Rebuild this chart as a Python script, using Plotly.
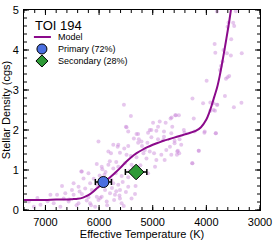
import plotly.graph_objects as go

# Background stars (Teff [K], density [cgs])
star_teff = [3802, 3450, 3587, 3500, 3481, 3605, 3537, 3846, 3833, 3680, 3617, 3543, 3340, 3698, 3728, 3747,
             3574, 3605, 3635, 3995, 4259, 4061, 3926, 3796, 3865, 3654, 3487, 3346, 4648, 4568, 4512, 4235,
             3865, 3802, 3926, 3839, 4580, 4667, 4870, 4759, 4994, 4901, 4636, 5056, 5025, 5087, 4932, 4790,
             4420, 5302, 4790, 4654, 4407, 4222, 4037, 3821, 5025, 4901, 5259, 5210, 4500, 5099, 4593,
             5735, 5654, 5457, 5531, 5272, 5827, 5778, 5611, 5488, 5407, 5302, 5148, 5056, 4975, 4840, 4747,
             4654, 5117, 4932, 4778, 6043, 5951, 5827, 5735, 5642, 5519, 5395, 5691, 5580, 5457, 5735, 5642,
             5889, 5796, 5704, 5951, 5611, 5858, 5580, 5395, 6043, 6012, 5457, 5087,
             6321, 6198, 6290, 6475, 6691, 6167, 6383, 6259, 6506, 6364, 6136, 6630, 6475, 6321, 6784, 6907,
             6661, 6198, 6568, 6846, 6383, 6167, 7093, 7216, 7309, 6722, 6074, 6043,
             5537, 5407, 5488, 5457, 6012, 5272, 5352, 5500, 5642, 6333,
             3827, 4142, 4259, 4543, 4506, 4957, 5173, 4679, 4802, 4031,
             4593, 4469, 4531, 4549, 4142, 4265,
             5900, 5760, 5680, 6100, 5980, 5850, 5560, 5620, 5720, 6230, 5940, 5500, 5360, 5800, 6150, 5680,
             5880, 5320, 5230, 5430, 6420, 6560, 6960, 7150, 5990, 5770, 5610, 5540, 5330, 5200]
star_rho = [4.96, 4.97, 4.69, 4.68, 4.60, 4.58, 4.27, 4.15, 3.93, 4.00, 3.92, 3.86, 3.92, 3.71, 3.60, 3.50,
            3.35, 3.32, 3.28, 3.23, 2.79, 2.67, 2.69, 2.63, 2.50, 2.85, 2.57, 2.68, 2.31, 2.37, 2.37, 2.29,
            2.67, 2.63, 2.48, 2.48, 2.37, 2.29, 2.21, 2.18, 2.18, 2.08, 2.08, 2.00, 2.00, 1.93, 1.98, 1.96,
            2.00, 1.90, 1.83, 1.92, 1.93, 1.96, 1.93, 1.92, 1.82, 1.77, 1.77, 1.71, 1.77, 1.68, 1.67,
            1.63, 1.58, 1.60, 1.54, 1.68, 1.46, 1.42, 1.43, 1.38, 1.35, 1.32, 1.50, 1.46, 1.42, 1.38, 1.50,
            1.38, 1.29, 1.25, 1.25, 1.15, 1.08, 1.13, 1.04, 1.08, 1.17, 1.13, 0.92, 0.85, 0.82, 0.67, 0.63,
            0.50, 0.42, 0.38, 0.33, 0.29, 0.21, 0.17, 0.29, 0.63, 0.25, 0.58, 0.92,
            0.96, 0.92, 0.79, 0.67, 0.60, 0.67, 0.58, 0.54, 0.50, 0.46, 0.50, 0.42, 0.38, 0.40, 0.38, 0.38,
            0.29, 0.32, 0.21, 0.17, 0.17, 0.17, 0.13, 0.08, 0.21, 0.08, 0.08, 0.33,
            2.63, 2.35, 2.07, 1.96, 1.71, 1.90, 1.79, 2.08, 1.63, 0.96,
            1.92, 1.48, 1.17, 1.46, 1.42, 1.08, 1.42, 1.58, 1.75, 1.96,
            1.73, 1.63, 1.48, 1.38, 1.48, 1.17,
            0.88, 0.55, 0.47, 0.78, 0.30, 0.12, 0.70, 0.36, 0.25, 0.24, 1.02, 0.45, 1.05, 1.22, 0.12, 1.20,
            0.95, 0.60, 1.12, 0.98, 0.12, 0.26, 0.22, 0.30, 0.86, 0.75, 0.50, 0.10, 0.40, 1.60]

# Model curve
model_teff = [7400, 7200, 7000, 6800, 6600, 6500, 6400, 6300, 6200, 6100, 6000, 5900, 5800, 5700,
              5600, 5500, 5400, 5300, 5200, 5100, 5000, 4900, 4800, 4700, 4600, 4500, 4400, 4300,
              4200, 4100, 4000, 3950, 3900, 3850, 3800, 3750, 3700, 3650, 3600, 3570, 3540]
model_rho = [0.25, 0.25, 0.25, 0.26, 0.26, 0.27, 0.28, 0.31, 0.37, 0.47, 0.59, 0.70, 0.81, 0.93,
             1.06, 1.20, 1.32, 1.42, 1.50, 1.57, 1.63, 1.68, 1.73, 1.77, 1.81, 1.85, 1.89, 1.93,
             1.98, 2.07, 2.26, 2.42, 2.62, 2.84, 3.06, 3.36, 3.72, 4.10, 4.50, 4.75, 5.02]

# Components
prim_teff, prim_rho, prim_err = [5920], [0.70], [150]
sec_teff, sec_rho, sec_err = [5310], [0.95], [200]

# Axis ticks
x_major = [3000, 4000, 5000, 6000, 7000]
y_major = [0, 1, 2, 3, 4, 5]
x_minor = [3000 + 200 * i for i in range(23)]
y_minor = [round(0.2 * i, 1) for i in range(26)]

# Legend
legend_title = "TOI 194"
legend_labels = ["Model", "Primary (72%)", "Secondary (28%)"]

MODEL_C = "#8b0a8b"
PRIM_C = "#4a6fe0"
SEC_C = "#2e9a36"

fig = go.Figure()
fig.add_trace(go.Scatter(x=star_teff, y=star_rho, mode="markers", showlegend=False,
                         marker=dict(size=4, color="rgba(200,130,215,0.45)", line=dict(width=0))))
fig.add_trace(go.Scatter(x=model_teff, y=model_rho, mode="lines", showlegend=False,
                         line=dict(color=MODEL_C, width=2, shape="spline", smoothing=0.6)))
fig.add_trace(go.Scatter(x=prim_teff, y=prim_rho, mode="markers", showlegend=False,
                         error_x=dict(type="data", array=prim_err, color="black", thickness=1.5, width=3),
                         marker=dict(symbol="circle", size=11, color=PRIM_C, line=dict(color="black", width=1))))
fig.add_trace(go.Scatter(x=sec_teff, y=sec_rho, mode="markers", showlegend=False,
                         error_x=dict(type="data", array=sec_err, color="black", thickness=1.5, width=3),
                         marker=dict(symbol="diamond", size=12, color=SEC_C, line=dict(color="black", width=1))))

# Inward tick marks on all four sides, placed through the axes' own scales
shapes = []
tick_line = dict(color="black", width=1)
for vals, length in ((x_minor, 3), (x_major, 5)):
    for v in vals:
        shapes.append(dict(type="line", xref="x", yref="paper", ysizemode="pixel", yanchor=0,
                           x0=v, x1=v, y0=0, y1=length, line=tick_line))
        shapes.append(dict(type="line", xref="x", yref="paper", ysizemode="pixel", yanchor=1,
                           x0=v, x1=v, y0=0, y1=-length, line=tick_line))
for vals, length in ((y_minor, 3), (y_major, 5)):
    for v in vals:
        shapes.append(dict(type="line", xref="paper", yref="y", xsizemode="pixel", xanchor=0,
                           x0=0, x1=length, y0=v, y1=v, line=tick_line))
        shapes.append(dict(type="line", xref="paper", yref="y", xsizemode="pixel", xanchor=1,
                           x0=0, x1=-length, y0=v, y1=v, line=tick_line))

# Manual legend (paper coordinates; plot area is 236 x 200 px)
key_x = 0.076
rows_y = [0.865, 0.805, 0.745]
shapes += [
    dict(type="line", xref="paper", yref="paper", x0=0.042, x1=0.114, y0=rows_y[0], y1=rows_y[0],
         line=dict(color=MODEL_C, width=2)),
    dict(type="circle", xref="paper", yref="paper", xsizemode="pixel", ysizemode="pixel",
         xanchor=key_x, yanchor=rows_y[1], x0=-5, x1=5, y0=-5, y1=5,
         fillcolor=PRIM_C, line=dict(color="black", width=1)),
    dict(type="path", xref="paper", yref="paper", xsizemode="pixel", ysizemode="pixel",
         xanchor=key_x, yanchor=rows_y[2], path="M 0 6 L 6 0 L 0 -6 L -6 0 Z",
         fillcolor=SEC_C, line=dict(color="black", width=1)),
]
annotations = [dict(text=legend_title, xref="paper", yref="paper", x=0.04, y=0.92,
                    xanchor="left", yanchor="middle", showarrow=False, font=dict(size=13))]
for lab, yy in zip(legend_labels, rows_y):
    annotations.append(dict(text=lab, xref="paper", yref="paper", x=0.135, y=yy,
                            xanchor="left", yanchor="middle", showarrow=False, font=dict(size=9)))

fig.update_layout(
    width=274, height=240,
    margin=dict(l=24, r=14, t=10, b=30),
    paper_bgcolor="white", plot_bgcolor="white",
    font=dict(family="Liberation Sans, Arial, sans-serif", color="black", size=11),
    xaxis=dict(range=[7400, 3000], showline=True, linecolor="black", mirror=True,
               ticks="", tickvals=x_major, ticklabelstandoff=2,
               automargin=False, gridcolor="rgba(0,0,0,0)", zerolinecolor="rgba(0,0,0,0)",
               title=dict(text="Effective Temperature (K)", font=dict(size=11), standoff=1)),
    yaxis=dict(range=[0, 5], showline=True, linecolor="black", mirror=True,
               ticks="", tickvals=y_major, ticklabelstandoff=2,
               automargin=False, gridcolor="rgba(0,0,0,0)", zerolinecolor="rgba(0,0,0,0)",
               title=dict(text="Stellar Density (cgs)", font=dict(size=11), standoff=3)),
    shapes=shapes, annotations=annotations, showlegend=False,
)

fig.write_html("out.html", config={"displayModeBar": False},
               post_script="document.body.style.margin='0px';")
